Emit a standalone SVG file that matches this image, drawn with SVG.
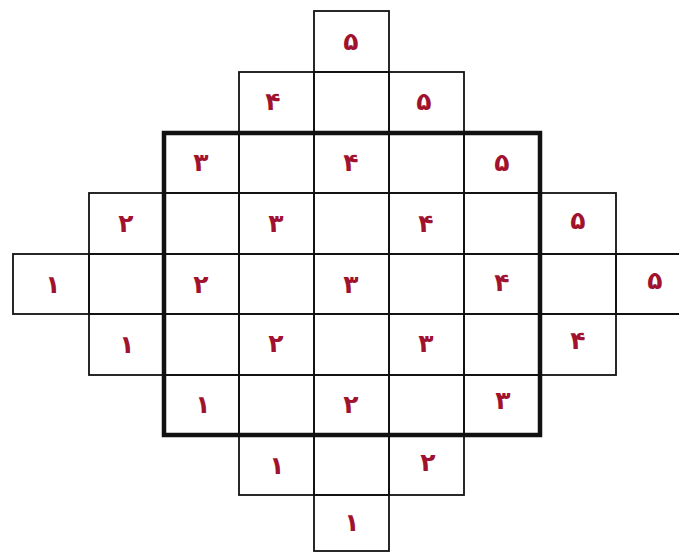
<svg xmlns="http://www.w3.org/2000/svg" width="679" height="554" viewBox="0 0 679 554">
<style>
.c{fill:none;stroke:#111;stroke-width:1.8}
.t{font-family:"DejaVu Sans","Noto Sans",sans-serif;font-size:25px;font-weight:bold;fill:#a0122e;text-anchor:middle;dominant-baseline:central}
.b{fill:none;stroke:#111;stroke-width:4.5}
</style>
<rect width="679" height="554" fill="#fff"/>
<g id="r0c4"><rect class="c" x="314" y="11" width="75" height="61"/><text class="t" x="351" y="41">۵</text></g>
<g id="r1c3"><rect class="c" x="239" y="72" width="75" height="61"/><text class="t" x="273" y="101">۴</text></g>
<g id="r1c4"><rect class="c" x="314" y="72" width="75" height="61"/></g>
<g id="r1c5"><rect class="c" x="389" y="72" width="75" height="61"/><text class="t" x="424" y="101">۵</text></g>
<g id="r2c2"><rect class="c" x="164" y="133" width="75" height="60"/><text class="t" x="201" y="162">۳</text></g>
<g id="r2c3"><rect class="c" x="239" y="133" width="75" height="60"/></g>
<g id="r2c4"><rect class="c" x="314" y="133" width="75" height="60"/><text class="t" x="351" y="162">۴</text></g>
<g id="r2c5"><rect class="c" x="389" y="133" width="75" height="60"/></g>
<g id="r2c6"><rect class="c" x="464" y="133" width="76" height="60"/><text class="t" x="502" y="162">۵</text></g>
<g id="r3c1"><rect class="c" x="89" y="193" width="75" height="61"/><text class="t" x="126" y="223">۲</text></g>
<g id="r3c2"><rect class="c" x="164" y="193" width="75" height="61"/></g>
<g id="r3c3"><rect class="c" x="239" y="193" width="75" height="61"/><text class="t" x="276" y="223">۳</text></g>
<g id="r3c4"><rect class="c" x="314" y="193" width="75" height="61"/></g>
<g id="r3c5"><rect class="c" x="389" y="193" width="75" height="61"/><text class="t" x="426" y="223">۴</text></g>
<g id="r3c6"><rect class="c" x="464" y="193" width="76" height="61"/></g>
<g id="r3c7"><rect class="c" x="540" y="193" width="76" height="61"/><text class="t" x="578" y="220">۵</text></g>
<g id="r4c0"><rect class="c" x="13" y="254" width="76" height="60"/><text class="t" x="53" y="284">۱</text></g>
<g id="r4c1"><rect class="c" x="89" y="254" width="75" height="60"/></g>
<g id="r4c2"><rect class="c" x="164" y="254" width="75" height="60"/><text class="t" x="201" y="284">۲</text></g>
<g id="r4c3"><rect class="c" x="239" y="254" width="75" height="60"/></g>
<g id="r4c4"><rect class="c" x="314" y="254" width="75" height="60"/><text class="t" x="351" y="284">۳</text></g>
<g id="r4c5"><rect class="c" x="389" y="254" width="75" height="60"/></g>
<g id="r4c6"><rect class="c" x="464" y="254" width="76" height="60"/><text class="t" x="502" y="282">۴</text></g>
<g id="r4c7"><rect class="c" x="540" y="254" width="76" height="60"/></g>
<g id="r4c8"><path class="c" d="M680,254 H616 V314 H680"/><text class="t" x="655" y="280">۵</text></g>
<g id="r5c1"><rect class="c" x="89" y="314" width="75" height="61"/><text class="t" x="127" y="344">۱</text></g>
<g id="r5c2"><rect class="c" x="164" y="314" width="75" height="61"/></g>
<g id="r5c3"><rect class="c" x="239" y="314" width="75" height="61"/><text class="t" x="276" y="343">۲</text></g>
<g id="r5c4"><rect class="c" x="314" y="314" width="75" height="61"/></g>
<g id="r5c5"><rect class="c" x="389" y="314" width="75" height="61"/><text class="t" x="426" y="343">۳</text></g>
<g id="r5c6"><rect class="c" x="464" y="314" width="76" height="61"/></g>
<g id="r5c7"><rect class="c" x="540" y="314" width="76" height="61"/><text class="t" x="578" y="340">۴</text></g>
<g id="r6c2"><rect class="c" x="164" y="375" width="75" height="60"/><text class="t" x="203" y="404">۱</text></g>
<g id="r6c3"><rect class="c" x="239" y="375" width="75" height="60"/></g>
<g id="r6c4"><rect class="c" x="314" y="375" width="75" height="60"/><text class="t" x="351" y="404">۲</text></g>
<g id="r6c5"><rect class="c" x="389" y="375" width="75" height="60"/></g>
<g id="r6c6"><rect class="c" x="464" y="375" width="76" height="60"/><text class="t" x="503" y="400">۳</text></g>
<g id="r7c3"><rect class="c" x="239" y="435" width="75" height="60"/><text class="t" x="277" y="465">۱</text></g>
<g id="r7c4"><rect class="c" x="314" y="435" width="75" height="60"/></g>
<g id="r7c5"><rect class="c" x="389" y="435" width="75" height="60"/><text class="t" x="428" y="462">۲</text></g>
<g id="r8c4"><rect class="c" x="314" y="495" width="75" height="56"/><text class="t" x="352" y="522">۱</text></g>
<g id="frame"><rect class="b" x="164" y="133" width="376" height="302"/></g>
</svg>
